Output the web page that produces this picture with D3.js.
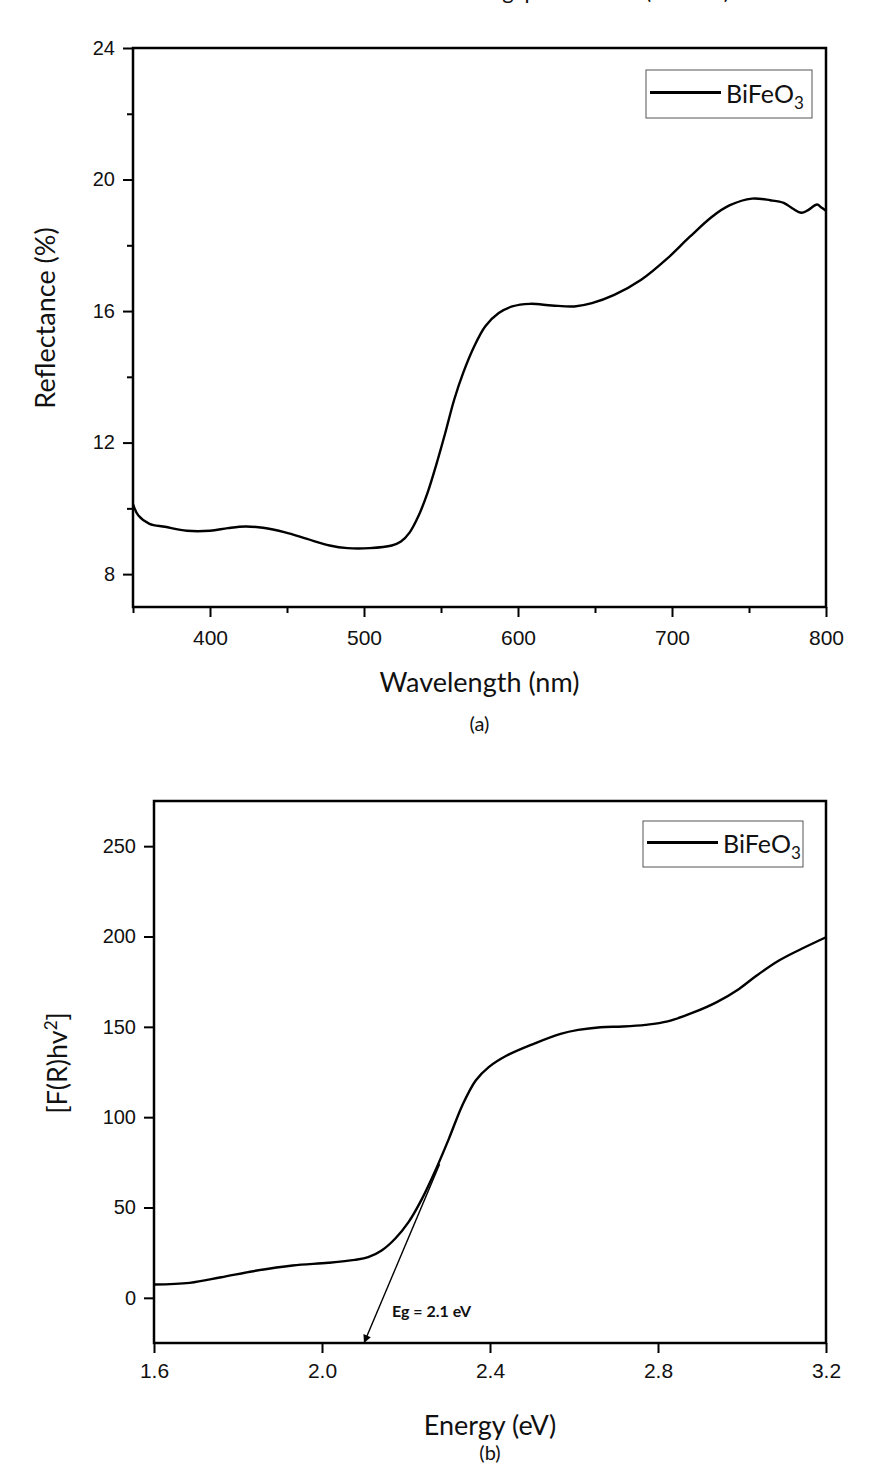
<!DOCTYPE html>
<html>
<head>
<meta charset="utf-8">
<script src="https://d3js.org/d3.v7.min.js"></script>
<style>
  body { margin: 0; background: #fff; }
  svg { display: block; font-family: Lato, "Open Sans", sans-serif; }
  .tick text { font-size: 20px; fill: #111; }
  .axis-title { font-size: 27px; fill: #111; }
</style>
</head>
<body>
<svg id="chart" width="874" height="1467"></svg>
<script>
// panel (a): reflectance vs wavelength
const wavelength = [350, 353.5, 360.7, 370.8, 385, 400, 411.6, 423, 434.4, 448.8, 463, 477.7, 489.3, 503.7, 518, 524,
  529.7, 535.5, 541.3, 547, 552.8, 558.6, 564.4, 571.6, 578.8, 587.5, 596.2, 607.7, 622, 636.6, 648, 662.5, 680,
  697, 711.6, 726, 737.6, 752, 763.8, 772.5, 778.3, 784, 788.4, 794.2, 797, 800];
const reflectance = [10.13, 9.78, 9.53, 9.44, 9.32, 9.32, 9.40, 9.45, 9.41, 9.27, 9.07, 8.87, 8.79, 8.79, 8.87, 8.99,
  9.27, 9.78, 10.48, 11.34, 12.30, 13.31, 14.12, 14.93, 15.54, 15.94, 16.14, 16.22, 16.17, 16.14, 16.24, 16.49, 16.95,
  17.6, 18.26, 18.87, 19.22, 19.42, 19.37, 19.29, 19.12, 18.99, 19.07, 19.24, 19.15, 19.05];

// panel (b): Tauc plot
const energy = [1.6, 1.685, 1.76, 1.845, 1.93, 2.015, 2.078, 2.11, 2.142, 2.174, 2.206, 2.238, 2.27, 2.302, 2.334,
  2.366, 2.397, 2.44, 2.504, 2.568, 2.61, 2.663, 2.716, 2.77, 2.823, 2.886, 2.94, 2.993, 3.035, 3.088, 3.142, 3.2];
const tauc = [7.4, 8.3, 11.4, 15.1, 17.9, 19.4, 21.0, 22.5, 26.2, 32.7, 41.9, 54.8, 70.5, 88, 106.5, 120.3, 127.7,
  134.1, 140.6, 146.1, 148.3, 149.8, 150.2, 151.1, 153, 158.1, 163.7, 171, 178.4, 186.7, 193.2, 199.6];

// tangent used for the band gap estimate
const tangentE = [2.28, 2.1];
const tangentY = [74, -25];
const bandGapLabel = "Eg = 2.1 eV";

const seriesName = "BiFeO";

const svg = d3.select("#chart");

// caption line above panel (a); only the lowest part of it is inside the page
svg.append("text")
  .attr("x", 447).attr("y", -1)
  .style("font-size", "22px").style("fill", "#111")
  .text("Band gap calculated (BiFeO3)");

function drawPanel(cfg) {
  const x = d3.scaleLinear().domain(cfg.xDomain).range([cfg.left, cfg.right]);
  const y = d3.scaleLinear().domain(cfg.yDomain).range([cfg.bottom, cfg.top]);
  const g = svg.append("g");

  // minor ticks
  if (cfg.xMinor) {
    g.append("g")
      .attr("transform", `translate(0,${cfg.bottom})`)
      .call(d3.axisBottom(x).tickValues(cfg.xMinor).tickSize(6).tickFormat(""))
      .call(a => a.select(".domain").remove())
      .selectAll("line").attr("stroke-width", 2);
  }
  if (cfg.yMinor) {
    g.append("g")
      .attr("transform", `translate(${cfg.left},0)`)
      .call(d3.axisLeft(y).tickValues(cfg.yMinor).tickSize(6).tickFormat(""))
      .call(a => a.select(".domain").remove())
      .selectAll("line").attr("stroke-width", 2);
  }

  const xa = g.append("g")
    .attr("transform", `translate(0,${cfg.bottom})`)
    .call(d3.axisBottom(x).tickValues(cfg.xTicks).tickSize(10).tickPadding(cfg.xPad).tickFormat(cfg.xFormat));
  xa.select(".domain").remove();
  xa.selectAll("line").attr("stroke-width", 2);
  xa.selectAll("text").style("font-size", "21px");

  const ya = g.append("g")
    .attr("transform", `translate(${cfg.left},0)`)
    .call(d3.axisLeft(y).tickValues(cfg.yTicks).tickSize(10).tickPadding(8));
  ya.select(".domain").remove();
  ya.selectAll("line").attr("stroke-width", 2);

  // frame
  g.append("rect")
    .attr("x", cfg.left).attr("y", cfg.top)
    .attr("width", cfg.right - cfg.left).attr("height", cfg.bottom - cfg.top)
    .attr("fill", "none").attr("stroke", "#000").attr("stroke-width", 2.5);

  const line = d3.line()
    .x((d, i) => x(cfg.xs[i]))
    .y(d => y(d))
    .curve(d3.curveCatmullRom);

  g.append("path")
    .datum(cfg.ys)
    .attr("d", line)
    .attr("fill", "none")
    .attr("stroke", "#000")
    .attr("stroke-width", 2.4);

  // legend
  const lg = g.append("g");
  const lgMid = cfg.legend.y + cfg.legend.h / 2 - 1.5;
  lg.append("rect")
    .attr("x", cfg.legend.x).attr("y", cfg.legend.y)
    .attr("width", cfg.legend.w).attr("height", cfg.legend.h)
    .attr("fill", "#fff").attr("stroke", "#555").attr("stroke-width", 1);
  lg.append("line")
    .attr("x1", cfg.legend.x + 4).attr("x2", cfg.legend.x + 75)
    .attr("y1", lgMid).attr("y2", lgMid)
    .attr("stroke", "#000").attr("stroke-width", 3);
  const lt = lg.append("text")
    .attr("x", cfg.legend.x + 80).attr("y", cfg.legend.y + cfg.legend.h / 2 + 8.5)
    .style("font-size", "25px").style("fill", "#111");
  lt.append("tspan").text(seriesName);
  lt.append("tspan").attr("dy", 6).style("font-size", "17px").text("3");

  // axis titles
  g.append("text")
    .attr("class", "axis-title")
    .attr("x", (cfg.left + cfg.right) / 2).attr("y", cfg.xTitleY)
    .attr("text-anchor", "middle")
    .text(cfg.xTitle);

  const yt = g.append("text")
    .attr("class", "axis-title")
    .attr("transform", `translate(${cfg.yTitleX},${cfg.yTitleCY}) rotate(-90)`)
    .attr("text-anchor", "middle");
  cfg.yTitle(yt);

  g.append("text")
    .attr("x", (cfg.left + cfg.right) / 2).attr("y", cfg.capY)
    .attr("text-anchor", "middle")
    .style("font-size", "20px").style("fill", "#111")
    .text(cfg.caption);

  return { x, y, g };
}

drawPanel({
  left: 133, right: 826, top: 48, bottom: 607,
  xDomain: [350, 800], yDomain: [7, 24],
  xTicks: [400, 500, 600, 700, 800], xMinor: [350, 450, 550, 650, 750],
  yTicks: [8, 12, 16, 20, 24], yMinor: [10, 14, 18, 22],
  xFormat: d3.format("d"), xPad: 13,
  xs: wavelength, ys: reflectance,
  legend: { x: 646, y: 70, w: 166, h: 48 },
  xTitle: "Wavelength (nm)", xTitleY: 692,
  yTitleX: 55, yTitleCY: 318,
  yTitle: t => t.text("Reflectance (%)"),
  caption: "(a)", capY: 731
});

const pb = drawPanel({
  left: 154, right: 826, top: 801, bottom: 1343,
  xDomain: [1.6, 3.2], yDomain: [-25, 275],
  xTicks: [1.6, 2.0, 2.4, 2.8, 3.2], xMinor: null,
  yTicks: [0, 50, 100, 150, 200, 250], yMinor: null,
  xFormat: d3.format(".1f"), xPad: 10,
  xs: energy, ys: tauc,
  legend: { x: 643, y: 821, w: 160, h: 46 },
  xTitle: "Energy (eV)", xTitleY: 1435,
  yTitleX: 67, yTitleCY: 1063,
  yTitle: t => {
    t.append("tspan").text("[F(R)hv");
    t.append("tspan").attr("dy", -10).style("font-size", "17px").text("2");
    t.append("tspan").attr("dy", 10).text("]");
  },
  caption: "(b)", capY: 1460
});

// tangent + arrow
const defs = svg.append("defs");
defs.append("marker")
  .attr("id", "arrow")
  .attr("viewBox", "0 0 10 10")
  .attr("refX", 10).attr("refY", 5)
  .attr("markerWidth", 12).attr("markerHeight", 8)
  .attr("markerUnits", "userSpaceOnUse")
  .attr("orient", "auto")
  .append("path").attr("d", "M0,0 L10,5 L0,10 Z").attr("fill", "#000");

pb.g.append("line")
  .attr("x1", pb.x(tangentE[0])).attr("y1", pb.y(tangentY[0]))
  .attr("x2", pb.x(tangentE[1])).attr("y2", pb.y(tangentY[1]))
  .attr("stroke", "#000").attr("stroke-width", 1.4)
  .attr("marker-end", "url(#arrow)");

pb.g.append("text")
  .attr("x", 392).attr("y", pb.y(-10.5))
  .style("font-size", "16px").style("font-weight", "bold").style("fill", "#111")
  .text(bandGapLabel);
</script>
</body>
</html>
